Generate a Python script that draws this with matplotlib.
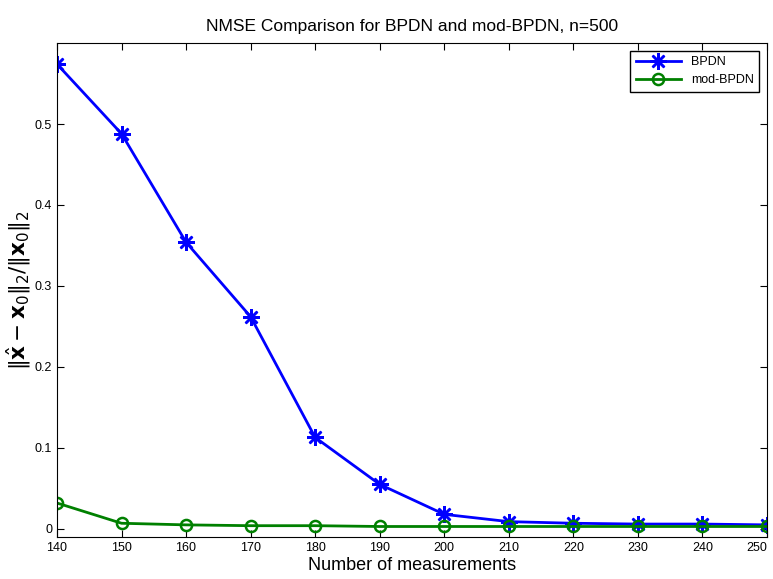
import matplotlib
matplotlib.use('Agg')
import matplotlib.pyplot as plt

# 数据：测量次数与 NMSE
m = [140, 150, 160, 170, 180, 190, 200, 210, 220, 230, 240, 250]
bpdn = [0.574, 0.488, 0.354, 0.262, 0.113, 0.055, 0.018, 0.009, 0.007, 0.006, 0.006, 0.005]
mod_bpdn = [0.032, 0.007, 0.005, 0.004, 0.004, 0.003, 0.003, 0.003, 0.003, 0.003, 0.003, 0.003]

plt.rcParams['font.family'] = ['Liberation Sans', 'DejaVu Sans']

fig = plt.figure(figsize=(7.73, 5.79), dpi=100)
ax = fig.add_axes([0.0737, 0.0725, 0.9185, 0.8532])

# MATLAB 风格的星号 (8 条臂)
ax.plot(m, bpdn, color='#0000ff', lw=2, marker=(8, 2, 0), ms=12, mew=1.8, label='BPDN')
ax.plot(m, mod_bpdn, color='#008000', lw=2, marker='o', ms=8, mfc='none', mew=1.8, label='mod-BPDN')

ax.set_xlim(140, 250)
ax.set_ylim(-0.01, 0.6)
ax.set_xticks(m)
ax.set_yticks([0, 0.1, 0.2, 0.3, 0.4, 0.5])
ax.set_yticklabels(['0', '0.1', '0.2', '0.3', '0.4', '0.5'])
ax.tick_params(direction='in', top=True, right=True, labelsize=9, length=5)
for lab in ax.get_xticklabels():
    if lab.get_text() == '250':
        lab.set_horizontalalignment('right')

ax.set_title('NMSE Comparison for BPDN and mod-BPDN, n=500', fontsize=12.5, pad=9)
ax.set_xlabel('Number of measurements', fontsize=13, labelpad=2)
ax.set_ylabel(r'$\Vert\hat{\mathbf{x}} - \mathbf{x}_0\Vert_2 / \Vert\mathbf{x}_0\Vert_2$', fontsize=15.5, labelpad=1)

ax.legend(loc='upper right', fontsize=9, fancybox=False, edgecolor='black',
          framealpha=1, borderaxespad=0.6, handlelength=3.6, borderpad=0.45)

fig.savefig('out.png', dpi=100)
